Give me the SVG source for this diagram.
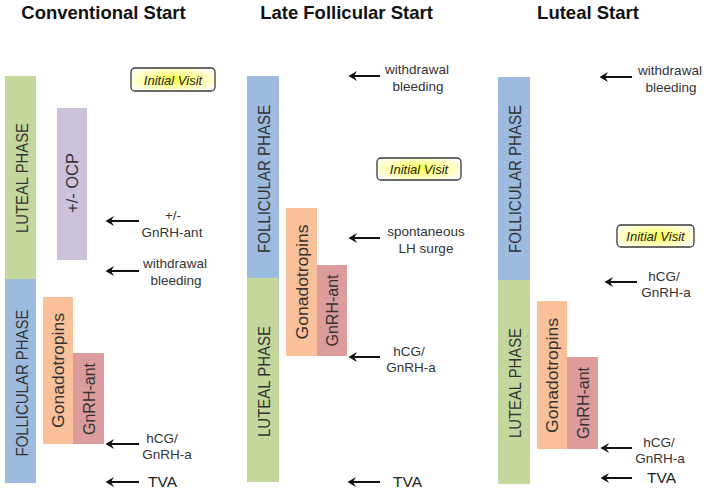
<svg xmlns="http://www.w3.org/2000/svg" width="708" height="492" viewBox="0 0 708 492">
<style>
.title{font-family:"Liberation Sans",Arial,sans-serif;font-weight:bold;font-size:18.5px;fill:#111;text-anchor:middle}
.vt{font-family:"Liberation Sans",Arial,sans-serif;font-size:16.5px;fill:#333;text-anchor:middle}
.lbl{font-family:"Liberation Sans",Arial,sans-serif;font-size:13.5px;fill:#333;text-anchor:middle}
.tva{font-family:"Liberation Sans",Arial,sans-serif;font-size:15.5px;fill:#222;text-anchor:start}
.iv{font-family:"Liberation Sans",Arial,sans-serif;font-size:13px;font-style:italic;fill:#222;text-anchor:middle}
.green{fill:#c4d89e}
.blue{fill:#9dbadf}
.lav{fill:#cdc2dc}
.orange{fill:#f9c09a}
.pink{fill:#dc9c9c}
.ivbox{fill:url(#ivg);stroke:#3a3a3a;stroke-width:1.3}
.arr{stroke:#111;stroke-width:2;fill:none;marker-end:url(#ah)}
</style>
<defs>
<radialGradient id="ivg" cx="0.5" cy="0.5" r="0.6">
<stop offset="0" stop-color="#ffff40"/>
<stop offset="0.55" stop-color="#ffffa8"/>
<stop offset="1" stop-color="#fffff6"/>
</radialGradient>
<marker id="ah" viewBox="-10 -6 12 12" markerWidth="12" markerHeight="12" refX="-1" refY="0" markerUnits="userSpaceOnUse" orient="auto">
<path d="M0.5,0 L-8,-5 L-5,0 L-8,5 Z" fill="#111"/>
</marker>
</defs>

<text class="title" x="103.5" y="19">Conventional Start</text>
<text class="title" x="346.5" y="19">Late Follicular Start</text>
<text class="title" x="588" y="19">Luteal Start</text>

<!-- Conventional -->
<g id="conv-luteal"><rect class="green" x="5" y="76" width="31" height="203"/><text class="vt" transform="translate(27.5,178) rotate(-90)" textLength="110" lengthAdjust="spacingAndGlyphs">LUTEAL PHASE</text></g>
<g id="conv-follicular"><rect class="blue" x="5" y="279" width="31" height="204"/><text class="vt" transform="translate(27.5,383) rotate(-90)" textLength="147" lengthAdjust="spacingAndGlyphs">FOLLICULAR PHASE</text></g>
<g id="conv-ocp"><rect class="lav" x="57" y="108" width="30" height="152"/><text class="vt" transform="translate(78,183) rotate(-90)" textLength="60" lengthAdjust="spacingAndGlyphs">+/- OCP</text></g>
<g id="conv-gonad"><rect class="orange" x="43" y="297" width="30" height="147"/><text class="vt" transform="translate(64,370.5) rotate(-90)" textLength="115" lengthAdjust="spacingAndGlyphs">Gonadotropins</text></g>
<g id="conv-gnrh"><rect class="pink" x="73" y="353" width="31" height="91"/><text class="vt" transform="translate(94.5,399) rotate(-90)" textLength="72" lengthAdjust="spacingAndGlyphs">GnRH-ant</text></g>
<g id="conv-iv"><rect class="ivbox" x="131" y="68" width="84" height="23" rx="4"/><text class="iv" x="173" y="84.5">Initial Visit</text></g>
<g id="conv-l1"><text class="lbl" x="173" y="220">+/-</text><text class="lbl" x="172" y="237">GnRH-ant</text></g>
<g id="conv-l2"><text class="lbl" x="175" y="268">withdrawal</text><text class="lbl" x="176" y="285">bleeding</text></g>
<g id="conv-l3"><text class="lbl" x="162" y="443">hCG/</text><text class="lbl" x="167" y="459">GnRH-a</text></g>
<g id="conv-l4"><text class="tva" x="148" y="487">TVA</text></g>

<!-- Late follicular -->
<g id="late-follicular"><rect class="blue" x="247" y="76" width="32" height="202"/><text class="vt" transform="translate(269.5,179) rotate(-90)" textLength="148" lengthAdjust="spacingAndGlyphs">FOLLICULAR PHASE</text></g>
<g id="late-luteal"><rect class="green" x="247" y="278" width="32" height="204"/><text class="vt" transform="translate(269.5,381.5) rotate(-90)" textLength="111" lengthAdjust="spacingAndGlyphs">LUTEAL PHASE</text></g>
<g id="late-gonad"><rect class="orange" x="286" y="208" width="31" height="148"/><text class="vt" transform="translate(307.5,282) rotate(-90)" textLength="115" lengthAdjust="spacingAndGlyphs">Gonadotropins</text></g>
<g id="late-gnrh"><rect class="pink" x="317" y="265" width="30" height="91"/><text class="vt" transform="translate(338,310.5) rotate(-90)" textLength="72" lengthAdjust="spacingAndGlyphs">GnRH-ant</text></g>
<g id="late-iv"><rect class="ivbox" x="377" y="158" width="84" height="22" rx="4"/><text class="iv" x="419" y="174">Initial Visit</text></g>
<g id="late-l1"><text class="lbl" x="417" y="74">withdrawal</text><text class="lbl" x="418" y="91">bleeding</text></g>
<g id="late-l2"><text class="lbl" x="426" y="236">spontaneous</text><text class="lbl" x="426" y="253">LH surge</text></g>
<g id="late-l3"><text class="lbl" x="409" y="356">hCG/</text><text class="lbl" x="411" y="372">GnRH-a</text></g>
<g id="late-l4"><text class="tva" x="393" y="487">TVA</text></g>

<!-- Luteal start -->
<g id="lut-follicular"><rect class="blue" x="498" y="77" width="32" height="203"/><text class="vt" transform="translate(520.5,179) rotate(-90)" textLength="148" lengthAdjust="spacingAndGlyphs">FOLLICULAR PHASE</text></g>
<g id="lut-luteal"><rect class="green" x="498" y="280" width="32" height="204"/><text class="vt" transform="translate(520.5,383) rotate(-90)" textLength="110" lengthAdjust="spacingAndGlyphs">LUTEAL PHASE</text></g>
<g id="lut-gonad"><rect class="orange" x="537" y="301" width="30" height="148"/><text class="vt" transform="translate(558,375.5) rotate(-90)" textLength="115" lengthAdjust="spacingAndGlyphs">Gonadotropins</text></g>
<g id="lut-gnrh"><rect class="pink" x="567" y="357" width="31" height="92"/><text class="vt" transform="translate(588.5,403) rotate(-90)" textLength="72" lengthAdjust="spacingAndGlyphs">GnRH-ant</text></g>
<g id="lut-iv"><rect class="ivbox" x="617" y="225" width="77" height="22" rx="4"/><text class="iv" x="655.5" y="241">Initial Visit</text></g>
<g id="lut-l1"><text class="lbl" x="670" y="75">withdrawal</text><text class="lbl" x="671" y="92">bleeding</text></g>
<g id="lut-l2"><text class="lbl" x="664" y="281">hCG/</text><text class="lbl" x="666" y="297">GnRH-a</text></g>
<g id="lut-l3"><text class="lbl" x="659" y="447">hCG/</text><text class="lbl" x="660" y="463">GnRH-a</text></g>
<g id="lut-l4"><text class="tva" x="647" y="483">TVA</text></g>

<g id="connectors">
<line class="arr" x1="139" y1="221" x2="107" y2="221"/>
<line class="arr" x1="139" y1="271" x2="107" y2="271"/>
<line class="arr" x1="139" y1="444" x2="107" y2="444"/>
<line class="arr" x1="139" y1="482" x2="107" y2="482"/>
<line class="arr" x1="380" y1="76" x2="350" y2="76"/>
<line class="arr" x1="380" y1="238" x2="350" y2="238"/>
<line class="arr" x1="380" y1="357" x2="350" y2="357"/>
<line class="arr" x1="380" y1="482" x2="349" y2="482"/>
<line class="arr" x1="632" y1="77" x2="601" y2="77"/>
<line class="arr" x1="637" y1="282" x2="606" y2="282"/>
<line class="arr" x1="632" y1="448" x2="602" y2="448"/>
<line class="arr" x1="632" y1="478" x2="602" y2="478"/>
</g>
</svg>
